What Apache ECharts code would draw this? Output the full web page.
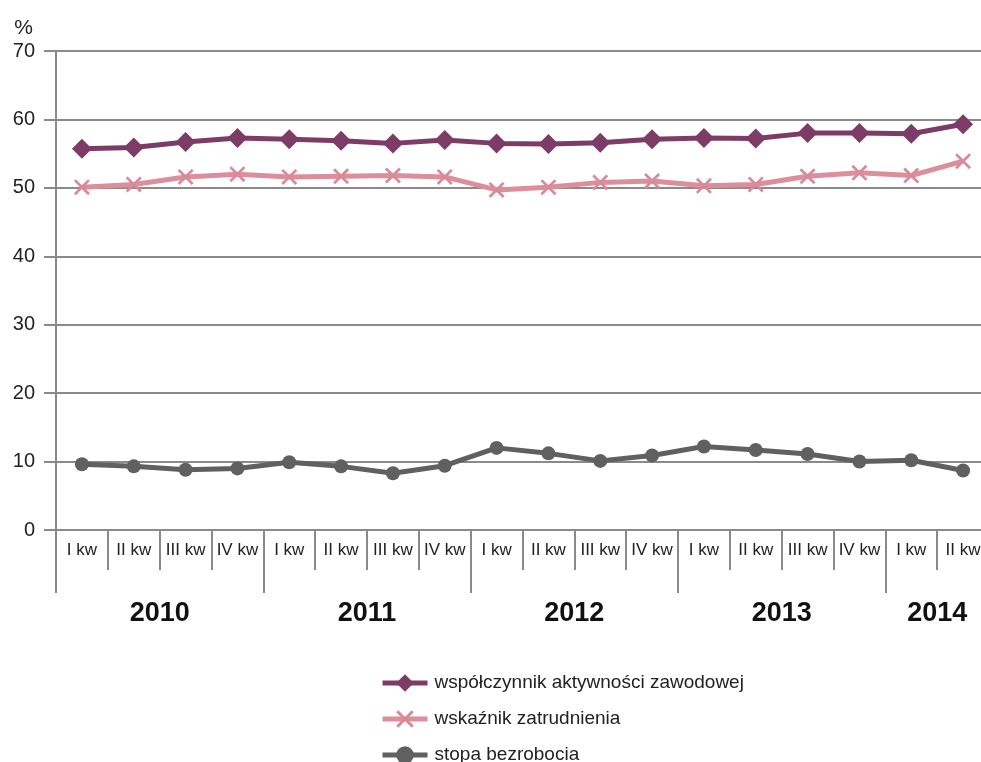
<!DOCTYPE html>
<html>
<head>
<meta charset="utf-8">
<script src="https://cdn.jsdelivr.net/npm/echarts@6/dist/echarts.min.js"></script>
<style>html,body{margin:0;padding:0;background:#fff;overflow:hidden}#c{width:981px;height:762px}</style>
</head>
<body>
<div id="c"></div>
<script>
var quarters = ['I kw','II kw','III kw','IV kw','I kw','II kw','III kw','IV kw','I kw','II kw','III kw','IV kw','I kw','II kw','III kw','IV kw','I kw','II kw'];
var years = ['2010','2011','2012','2013','2014'];
var quartersPerYear = [4,4,4,4,2];
var yTicks = [0,10,20,30,40,50,60,70];

var aktywnosc = [55.7,55.9,56.7,57.3,57.1,56.9,56.5,57.0,56.5,56.4,56.6,57.1,57.3,57.2,58.0,58.0,57.9,59.3];
var zatrudnienie = [50.1,50.5,51.6,52.0,51.6,51.7,51.8,51.6,49.7,50.1,50.8,51.0,50.3,50.5,51.7,52.2,51.8,53.9];
var bezrobocie = [9.6,9.3,8.8,9.0,9.9,9.3,8.3,9.4,12.0,11.2,10.1,10.9,12.2,11.7,11.1,10.0,10.2,8.7];

var seriesNames = ['współczynnik aktywności zawodowej','wskaźnik zatrudnienia','stopa bezrobocia'];

// year label centres (in quarter units)
var yearCenters = {};
var acc = 0;
for (var i = 0; i < years.length; i++) {
  yearCenters[acc + quartersPerYear[i] / 2] = years[i];
  acc += quartersPerYear[i];
}

var gray = '#8a8a8a';
var font = 'Liberation Sans, Arial, sans-serif';
var crossPath = 'path://M0,1.2 L1.2,0 L5,3.8 L8.8,0 L10,1.2 L6.2,5 L10,8.8 L8.8,10 L5,6.2 L1.2,10 L0,8.8 L3.8,5 Z';

var chart = echarts.init(document.getElementById('c'), null, {renderer: 'canvas'});
chart.setOption({
  animation: false,
  backgroundColor: '#fff',
  textStyle: {fontFamily: font},
  grid: {left: 56, top: 51, height: 479, width: 933, containLabel: false, outerBoundsMode: 'none'},
  legend: {
    orient: 'vertical',
    left: 375,
    top: 667,
    height: 200,
    itemWidth: 45,
    itemHeight: 22,
    itemGap: 14,
    data: seriesNames,
    lineStyle: {width: 5},
    textStyle: {fontSize: 19, lineHeight: 22, color: '#222', fontFamily: font, padding: [0, 0, 0, 2]}
  },
  xAxis: [
    {
      type: 'category',
      data: quarters,
      position: 'bottom',
      boundaryGap: true,
      axisLine: {show: true, lineStyle: {color: gray, width: 2}},
      axisTick: {show: true, interval: 0, length: 40, lineStyle: {color: gray, width: 2}},
      axisLabel: {interval: 0, margin: 12, fontSize: 17, color: '#222', fontFamily: font},
      splitLine: {show: false}
    },
    {
      type: 'value',
      position: 'bottom',
      min: 0, max: 18, interval: 1,
      axisLine: {show: false},
      axisTick: {show: false},
      splitLine: {show: false},
      axisLabel: {
        margin: 70, fontSize: 27, fontWeight: 'bold', color: '#111', fontFamily: font,
        formatter: function (v) { return yearCenters[v] || ''; }
      }
    },
    {
      type: 'value',
      position: 'bottom',
      min: 0, max: 18, interval: 4,
      axisLine: {show: false},
      axisTick: {show: true, length: 63, lineStyle: {color: gray, width: 2}},
      splitLine: {show: false},
      axisLabel: {show: false}
    }
  ],
  yAxis: {
    type: 'value',
    min: yTicks[0], max: yTicks[yTicks.length - 1], interval: 10,
    name: '%',
    nameLocation: 'end',
    nameGap: 12,
    nameTextStyle: {fontSize: 21, color: '#222', align: 'right', padding: [0, 23, 0, 0], fontFamily: font},
    axisLine: {show: true, lineStyle: {color: gray, width: 2}},
    axisTick: {show: true, length: 12, lineStyle: {color: gray, width: 2}},
    axisLabel: {margin: 21, fontSize: 20, color: '#222', fontFamily: font},
    splitLine: {show: true, lineStyle: {color: gray, width: 2}}
  },
  series: [
    {
      name: seriesNames[0], type: 'line', data: aktywnosc,
      symbol: 'diamond', symbolSize: [20, 20],
      lineStyle: {color: '#7c3c66', width: 5},
      itemStyle: {color: '#7c3c66'},
      z: 5
    },
    {
      name: seriesNames[1], type: 'line', data: zatrudnienie,
      symbol: crossPath, symbolSize: 16,
      lineStyle: {color: '#dc8e9c', width: 5},
      itemStyle: {color: '#d98a99'},
      z: 4
    },
    {
      name: seriesNames[2], type: 'line', data: bezrobocie,
      symbol: 'circle', symbolSize: 14,
      lineStyle: {color: '#606060', width: 5},
      itemStyle: {color: '#606060'},
      z: 3
    }
  ]
});
</script>
</body>
</html>
